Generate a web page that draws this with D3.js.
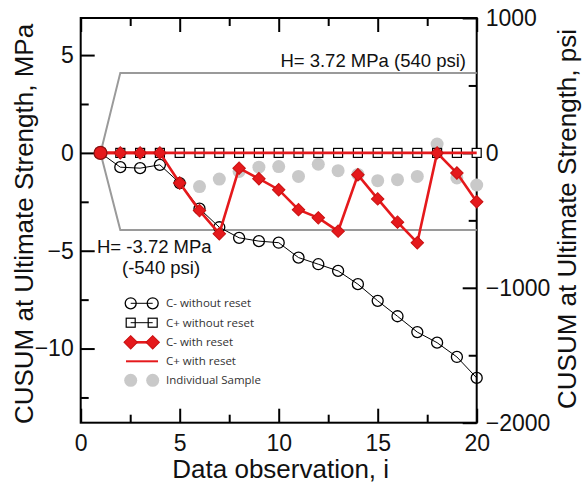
<!DOCTYPE html>
<html><head><meta charset="utf-8">
<script src="https://cdn.jsdelivr.net/npm/d3@7"></script>
<style>body{margin:0;background:#fff}</style>
</head><body>
<svg id="c" width="582" height="487"></svg>
<script>
// ---- data ----
const obs = [1,2,3,4,5,6,7,8,9,10,11,12,13,14,15,16,17,18,19,20];
const cMinusNoReset = [0,-0.73,-0.78,-0.61,-1.54,-2.85,-3.8,-4.34,-4.51,-4.59,-5.35,-5.69,-6.03,-6.71,-7.56,-8.35,-9.16,-9.70,-10.43,-11.5];
const cPlusNoReset = [0,0,0,0,0,0,0,0,0,0,0,0,0,0,0,0,0,0,0,0];
const cMinusReset = [0,0,0,0,-1.54,-2.95,-4.13,-0.78,-1.32,-1.88,-2.9,-3.32,-4.0,-1.12,-2.35,-3.54,-4.59,0,-1.03,-2.5];
const cPlusReset = [0,0,0,0,0,0,0,0,0,0,0,0,0,0,0,0,0,0,0,0];
const sampleObs = [6,7,8,9,10,11,12,13,14,15,16,17,18,19,20];
const sampleVals = [-1.72,-1.34,-0.95,-0.73,-0.7,-1.2,-0.58,-0.91,-1.1,-1.42,-1.37,-1.2,0.45,-1.28,-1.64];
const hObs = [1,2,20];
const hUpper = [0,4.09,4.09];
const hLower = [0,-3.94,-3.94];
const xTicks = [0,5,10,15,20];
const xMinor = [2.5,7.5,12.5,17.5];
const yTicks = [-10,-5,0,5];
const yMinor = [-12.5,-7.5,-2.5,2.5];
const psiTicks = [-2000,-1000,0,1000];
const psiMinor = [-1500,-500,500];
const legendLabels = ["C- without reset","C+ without reset","C- with reset","C+ with reset","Individual Sample"];

// ---- layout ----
const svg = d3.select("#c");
const L = 80.7, R = 476.7, T = 18, B = 422.7;
const x = d3.scaleLinear([0,20],[L,R]);
const y = d3.scaleLinear([-13.79,6.895],[B,T]);
const yPsi = d3.scaleLinear([-2000,1000],[B,T]);
const FONT = "'Liberation Sans', Arial, Helvetica, sans-serif";
const RED = "#e5191c", GRAY = "#c9c9c9", LGRAY = "#9a9a9a";

function styleAxis(g){
  g.select(".domain").remove();
  g.selectAll("line").attr("stroke","#000").attr("stroke-width",2);
  g.selectAll("text").attr("font-family",FONT).attr("font-size",23).attr("fill","#111");
}
svg.append("g").attr("transform",`translate(${L},0)`)
  .call(d3.axisLeft(y).tickValues(yTicks).tickSize(-14).tickPadding(7).tickFormat(d3.format("d"))).call(styleAxis);
svg.append("g").attr("transform",`translate(${L},0)`)
  .call(d3.axisLeft(y).tickValues(yMinor).tickSize(-8).tickFormat("")).call(styleAxis);
svg.append("g").attr("transform",`translate(0,${B})`)
  .call(d3.axisBottom(x).tickValues(xTicks).tickSize(-14).tickPadding(12)).call(styleAxis);
svg.append("g").attr("transform",`translate(0,${B})`)
  .call(d3.axisBottom(x).tickValues(xMinor).tickSize(-8).tickFormat("")).call(styleAxis);
svg.append("g").attr("transform",`translate(0,${T})`)
  .call(d3.axisTop(x).tickValues(xTicks).tickSize(-14).tickFormat("")).call(styleAxis);
svg.append("g").attr("transform",`translate(0,${T})`)
  .call(d3.axisTop(x).tickValues(xMinor).tickSize(-8).tickFormat("")).call(styleAxis);
svg.append("g").attr("transform",`translate(${R},0)`)
  .call(d3.axisRight(yPsi).tickValues(psiTicks).tickSize(-14).tickPadding(9).tickFormat(d3.format("d"))).call(styleAxis);
svg.append("g").attr("transform",`translate(${R},0)`)
  .call(d3.axisRight(yPsi).tickValues(psiMinor).tickSize(-8).tickFormat("")).call(styleAxis);

// frame
svg.append("rect").attr("x",L).attr("y",T).attr("width",R-L).attr("height",B-T)
  .attr("fill","none").attr("stroke","#000").attr("stroke-width",2);

// axis titles
svg.append("text").attr("x",(L+R)/2+2).attr("y",478).attr("text-anchor","middle")
  .attr("font-family",FONT).attr("font-size",26).attr("fill","#111").text("Data observation, i");
svg.append("text").attr("transform","translate(33,224) rotate(-90)").attr("text-anchor","middle")
  .attr("font-family",FONT).attr("font-size",26).attr("fill","#111").text("CUSUM at Ultimate Strength, MPa");
svg.append("text").attr("transform","translate(576,219) rotate(-90)").attr("text-anchor","middle")
  .attr("font-family",FONT).attr("font-size",26).attr("fill","#111").text("CUSUM at Ultimate Strength, psi");

const line = d3.line().x(d=>x(d[0])).y(d=>y(d[1]));
const zip = (a,b)=>a.map((v,i)=>[v,b[i]]);

// individual samples
svg.append("g").selectAll("circle").data(zip(sampleObs,sampleVals)).join("circle")
  .attr("cx",d=>x(d[0])).attr("cy",d=>y(d[1])).attr("r",6.5).attr("fill",GRAY);

// threshold lines
svg.append("path").attr("d",line(zip(hObs,hUpper))).attr("fill","none").attr("stroke",LGRAY).attr("stroke-width",2);
svg.append("path").attr("d",line(zip(hObs,hLower))).attr("fill","none").attr("stroke",LGRAY).attr("stroke-width",2);

// annotations
svg.append("text").attr("x",466).attr("y",67).attr("text-anchor","end")
  .attr("font-family",FONT).attr("font-size",18.5).attr("fill","#111").text("H= 3.72 MPa (540 psi)");
svg.append("text").attr("x",97).attr("y",253).attr("font-family",FONT).attr("font-size",18.5).attr("fill","#111").text("H= -3.72 MPa");
svg.append("text").attr("x",122).attr("y",274).attr("font-family",FONT).attr("font-size",18.5).attr("fill","#111").text("(-540 psi)");

// C- without reset
const cmn = zip(obs,cMinusNoReset);
svg.append("path").attr("d",line(cmn)).attr("fill","none").attr("stroke","#000").attr("stroke-width",1);
svg.append("g").selectAll("circle").data(cmn).join("circle")
  .attr("cx",d=>x(d[0])).attr("cy",d=>y(d[1])).attr("r",5.5).attr("fill","none").attr("stroke","#000").attr("stroke-width",1.3);

// C+ without reset
const cpn = zip(obs,cPlusNoReset);
svg.append("path").attr("d",line(cpn)).attr("fill","none").attr("stroke","#000").attr("stroke-width",1);
svg.append("g").selectAll("rect").data(cpn).join("rect")
  .attr("x",d=>x(d[0])-4.5).attr("y",d=>y(d[1])-4.5).attr("width",9).attr("height",9)
  .attr("fill","#fff").attr("stroke","#000").attr("stroke-width",1.2);

// C+ with reset
svg.append("path").attr("d",line(zip(obs,cPlusReset))).attr("fill","none").attr("stroke",RED).attr("stroke-width",2.6);

// C- with reset
const cmr = zip(obs,cMinusReset);
svg.append("path").attr("d",line(cmr)).attr("fill","none").attr("stroke",RED).attr("stroke-width",2.6);
const diamond = d3.symbol(d3.symbolSquare, 78)();
svg.append("g").selectAll("path").data(cmr.slice(1)).join("path")
  .attr("d",diamond).attr("transform",d=>`translate(${x(d[0])},${y(d[1])}) rotate(45)`)
  .attr("fill",RED).attr("stroke","#c81010").attr("stroke-width",1);
svg.append("circle").attr("cx",x(cmr[0][0])).attr("cy",y(cmr[0][1])).attr("r",6.5)
  .attr("fill",RED).attr("stroke","#8a1010").attr("stroke-width",1.2);

// legend
const lg = svg.append("g");
const ly = [303.3,322.7,342.3,361.3,380.3];
const lx1 = 130.7, lx2 = 152.7;
lg.append("line").attr("x1",lx1).attr("x2",lx2).attr("y1",ly[0]).attr("y2",ly[0]).attr("stroke","#000").attr("stroke-width",1);
[lx1,lx2].forEach(cx=>lg.append("circle").attr("cx",cx).attr("cy",ly[0]).attr("r",5.5).attr("fill","none").attr("stroke","#000").attr("stroke-width",1.3));
lg.append("line").attr("x1",lx1).attr("x2",lx2).attr("y1",ly[1]).attr("y2",ly[1]).attr("stroke","#000").attr("stroke-width",1);
[lx1,lx2].forEach(cx=>lg.append("rect").attr("x",cx-4.5).attr("y",ly[1]-4.5).attr("width",9).attr("height",9).attr("fill","none").attr("stroke","#000").attr("stroke-width",1.2));
lg.append("line").attr("x1",lx1).attr("x2",lx2).attr("y1",ly[2]).attr("y2",ly[2]).attr("stroke",RED).attr("stroke-width",2.6);
[lx1,lx2].forEach(cx=>lg.append("path").attr("d",d3.symbol(d3.symbolSquare,90)()).attr("transform",`translate(${cx},${ly[2]}) rotate(45)`).attr("fill",RED).attr("stroke","#c81010"));
lg.append("line").attr("x1",126).attr("x2",158).attr("y1",ly[3]).attr("y2",ly[3]).attr("stroke",RED).attr("stroke-width",2);
[lx1,lx2].forEach(cx=>lg.append("circle").attr("cx",cx).attr("cy",ly[4]).attr("r",6.5).attr("fill",GRAY));
lg.selectAll("text.lab").data(legendLabels).join("text").attr("class","lab")
  .attr("x",166).attr("y",(d,i)=>ly[i]).attr("dy","0.36em")
  .attr("font-family","'Open Sans', sans-serif").attr("font-size",11.5).attr("fill","#333").text(d=>d);
</script>
</body></html>
